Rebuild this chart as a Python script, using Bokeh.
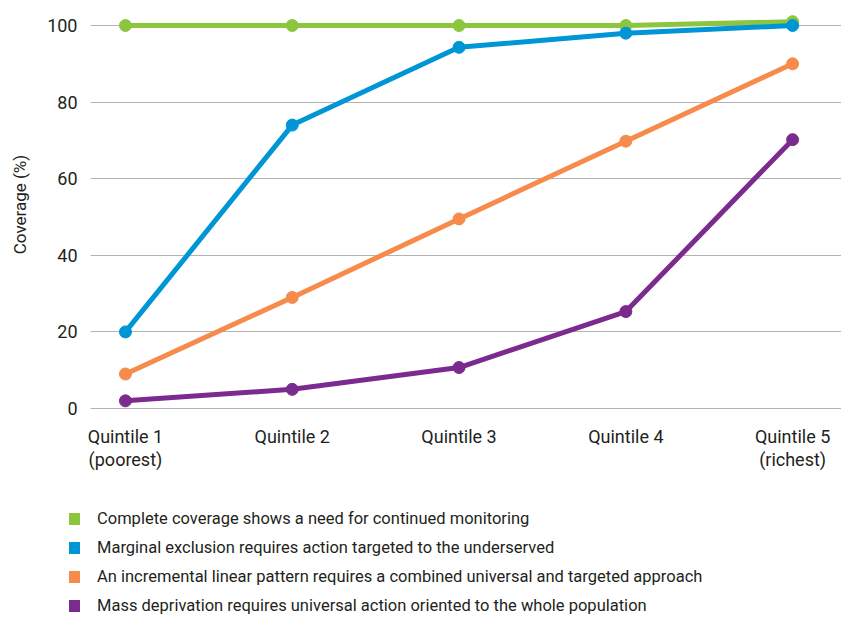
from bokeh.plotting import figure
from bokeh.layouts import column
from bokeh.models import Range1d, FixedTicker, Div
from bokeh.embed import file_html
from bokeh.resources import INLINE

# ---- data ----
quintiles = [0, 1, 2, 3, 4]
quintile_labels = ["Quintile 1\n(poorest)", "Quintile 2", "Quintile 3", "Quintile 4", "Quintile 5\n(richest)"]
y_ticks = [0, 20, 40, 60, 80, 100]

complete_coverage = [100, 100, 100, 100, 101]
marginal_exclusion = [20, 74, 94.3, 98, 100]
incremental_linear = [9, 29, 49.5, 69.8, 90]
mass_deprivation = [2, 5, 10.7, 25.3, 70.2]

series_names = [
    "Complete coverage shows a need for continued monitoring",
    "Marginal exclusion requires action targeted to the underserved",
    "An incremental linear pattern requires a combined universal and targeted approach",
    "Mass deprivation requires universal action oriented to the whole population",
]
series_values = [complete_coverage, marginal_exclusion, incremental_linear, mass_deprivation]
colors = ["#8cc63f", "#0096d6", "#f68b4c", "#7b2b8f"]

FONT = "Roboto"
TEXT = "#231f20"

p = figure(width=841, height=480,
           x_range=Range1d(-0.2096, 4.293), y_range=Range1d(0, 106.53),
           output_backend="svg", toolbar_location=None,
           min_border_left=90, min_border_right=0, min_border_top=0, min_border_bottom=72)
p.outline_line_color = None
p.background_fill_color = "white"
p.border_fill_color = "white"

for vals, col in zip(series_values, colors):
    p.line(quintiles, vals, line_color=col, line_width=5)
    p.scatter(quintiles, vals, marker="circle", size=12, fill_color=col, line_color=col)

# axes
p.xaxis.ticker = FixedTicker(ticks=quintiles)
p.xaxis.major_label_overrides = dict(zip(quintiles, quintile_labels))
p.xaxis.major_tick_line_color = None
p.xaxis.minor_tick_line_color = None
p.xaxis.axis_line_color = "#b3b3b3"
p.xaxis.major_label_standoff = 11
p.xaxis.major_label_text_font = FONT
p.xaxis.major_label_text_font_size = "18px"
p.xaxis.major_label_text_color = TEXT
p.xaxis.major_label_text_line_height = 1.1

p.yaxis.ticker = FixedTicker(ticks=y_ticks)
p.yaxis.axis_line_color = None
p.yaxis.major_tick_line_color = None
p.yaxis.minor_tick_line_color = None
p.yaxis.major_label_standoff = 7
p.yaxis.major_label_text_font = FONT
p.yaxis.major_label_text_font_size = "18px"
p.yaxis.major_label_text_color = TEXT
p.yaxis.axis_label = "Coverage (%)"
p.yaxis.axis_label_text_font = FONT
p.yaxis.axis_label_text_font_size = "17px"
p.yaxis.axis_label_text_font_style = "normal"
p.yaxis.axis_label_text_color = TEXT
p.yaxis.axis_label_standoff = 14

p.xgrid.grid_line_color = None
p.ygrid.ticker = FixedTicker(ticks=y_ticks)
p.ygrid.grid_line_color = "#b3b3b3"
p.ygrid.grid_line_width = 1

# ---- legend (HTML block under the chart) ----
rows = []
for name, col in zip(series_names, colors):
    rows.append(
        '<div style="display:flex;align-items:center;height:29px;white-space:nowrap;">'
        f'<span style="display:inline-block;width:11px;height:12px;background:{col};'
        'margin-left:69px;margin-right:17px;flex:none;"></span>'
        f'<span>{name}</span></div>'
    )
legend_html = (
    f'<div style="font-family:Roboto, sans-serif;font-size:16.5px;color:{TEXT};'
    'line-height:29px;padding-top:24px;margin:0;">' + "".join(rows) + '</div>'
)
legend_div = Div(text=legend_html, width=841, height=139, margin=0,
                 styles={"overflow": "hidden"})

layout = column(p, legend_div, spacing=0)
open("out.html", "w").write(file_html(layout, INLINE))
